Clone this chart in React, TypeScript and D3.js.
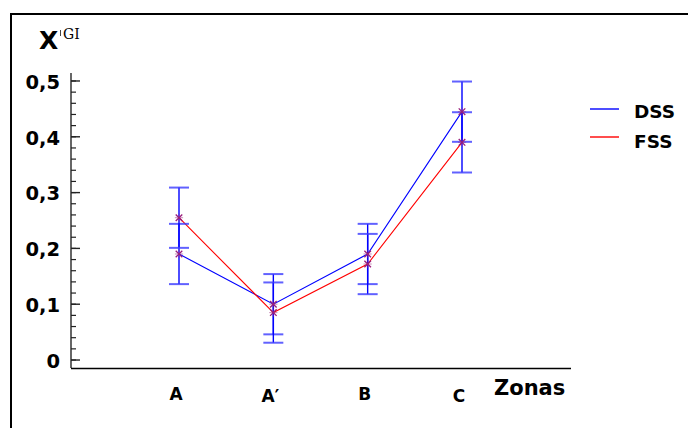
import React from "react";
import * as d3 from "d3";

const categories = ["A", "A′", "B", "C"];
const dssValues = [0.19, 0.1, 0.19, 0.445];
const fssValues = [0.255, 0.085, 0.172, 0.39];
const dssErrors = [0.054, 0.054, 0.054, 0.054];
const fssErrors = [0.054, 0.054, 0.054, 0.054];
const yTickValues = [0, 0.1, 0.2, 0.3, 0.4, 0.5];
const yTickLabels = ["0", "0,1", "0,2", "0,3", "0,4", "0,5"];
const seriesNames = ["DSS", "FSS"];

const W = 688;
const H = 428;
const FONT = "'DejaVu Sans', Verdana, sans-serif";

export default function App() {
  const x = d3.scalePoint<string>().domain(categories).range([179, 462]);
  const y = d3.scaleLinear().domain([-0.0143, 0.5143]).range([368, 73]);
  const minorTicks = d3.range(0, 0.5001, 0.02);

  const series = [
    { name: seriesNames[0], values: dssValues, errors: dssErrors, color: "#0000ff" },
    { name: seriesNames[1], values: fssValues, errors: fssErrors, color: "#ff0000" },
  ];

  const line = d3
    .line<number>()
    .x((_, i) => x(categories[i]) as number)
    .y((d) => y(d));

  const marker = d3.symbol().type(d3.symbolX).size(30)();
  const markerPlus = d3.symbol().type(d3.symbolPlus).size(24)();

  return (
    <svg
      width={W}
      height={H}
      style={{ position: "absolute", left: 0, top: 0, background: "#fff" }}
    >
      <rect x={11} y={14} width={800} height={600} fill="none" stroke="#000" strokeWidth={2} />

      {/* title */}
      <text x={39} y={49} fontFamily={FONT} fontWeight="bold" fontSize={25} fill="#000">
        X
      </text>
      <line x1={60.5} x2={60.5} y1={30} y2={36} stroke="#444" strokeWidth={1} />
      <text x={63} y={38.5} fontFamily="'DejaVu Serif', serif" fontSize={14} fill="#000">
        GI
      </text>

      {/* y axis */}
      <line x1={71} x2={71} y1={y(0.5143)} y2={y(-0.0143)} stroke="#000" strokeWidth={1.2} />
      {minorTicks.map((t, i) => (
        <line key={"m" + i} x1={71} x2={76} y1={y(t)} y2={y(t)} stroke="#222" strokeWidth={1.2} />
      ))}
      {yTickValues.map((t, i) => (
        <g key={"t" + i}>
          <line x1={71} x2={80} y1={y(t)} y2={y(t)} stroke="#222" strokeWidth={1.4} />
          <text
            x={60}
            y={y(t)}
            dy="0.4em"
            textAnchor="end"
            fontFamily={FONT}
            fontWeight="bold"
            fontSize={19.5}
            fill="#000"
          >
            {yTickLabels[i]}
          </text>
        </g>
      ))}

      {/* x axis */}
      <line x1={71} x2={571} y1={368.5} y2={368.5} stroke="#000" strokeWidth={1.6} />
      {categories.map((c, i) => (
        <text
          key={c}
          x={(x(c) as number) - 3}
          y={i % 2 === 1 ? 401.5 : 400}
          textAnchor="middle"
          fontFamily={FONT}
          fontWeight="bold"
          fontSize={17}
          fill="#000"
        >
          {c}
        </text>
      ))}
      <text x={494} y={395} fontFamily={FONT} fontWeight="bold" fontSize={21} fill="#000">
        Zonas
      </text>

      {/* lines */}
      {series.map((s) => (
        <path key={s.name} d={line(s.values) || ""} fill="none" stroke={s.color} strokeWidth={1.1} />
      ))}

      {/* error bars (all blue) */}
      {series.map((s) =>
        s.values.map((v, i) => {
          const cx = x(categories[i]) as number;
          const top = y(v + s.errors[i]);
          const bot = y(v - s.errors[i]);
          return (
            <g key={s.name + "e" + i}>
              <line x1={cx} x2={cx} y1={top} y2={bot} stroke="#0000ff" strokeWidth={1.4} />
              <line x1={cx - 10} x2={cx + 10} y1={top} y2={top} stroke="#3a3aff" strokeWidth={2} strokeOpacity={0.8} />
              <line x1={cx - 10} x2={cx + 10} y1={bot} y2={bot} stroke="#3a3aff" strokeWidth={2} strokeOpacity={0.8} />
            </g>
          );
        })
      )}

      {/* markers */}
      {series.map((s) =>
        s.values.map((v, i) => (
          <g key={s.name + "p" + i} transform={`translate(${x(categories[i])},${y(v)})`}>
            <path d={marker || ""} fill="none" stroke="#9a1f7c" strokeWidth={1.3} />
            <path d={markerPlus || ""} fill="none" stroke="#9a1f7c" strokeWidth={1} strokeOpacity={0.5} />
          </g>
        ))
      )}

      {/* legend */}
      {series.map((s, i) => (
        <g key={s.name + "leg"}>
          <line x1={590} x2={619} y1={109 + i * 28} y2={109 + i * 28} stroke={s.color} strokeWidth={1.4} />
          <text
            x={634}
            y={118 + i * 30}
            fontFamily={FONT}
            fontWeight="bold"
            fontSize={18.5}
            fill="#000"
          >
            {s.name}
          </text>
        </g>
      ))}
    </svg>
  );
}
